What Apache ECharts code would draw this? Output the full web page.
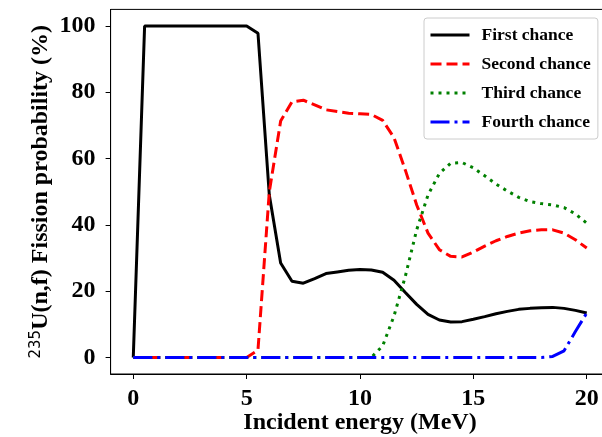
<!DOCTYPE html>
<html>
<head>
    <meta charset="utf-8">
    <script src="https://cdn.jsdelivr.net/npm/echarts@6/dist/echarts.min.js"></script>
</head>
<body style="margin: 0">
    <div id="container" style="width: 602px; height: 437px"></div>
    <script type="text/javascript">
        // incident energy grid (MeV)
        var energy = [0, 0.5, 1, 1.5, 2, 2.5, 3, 3.5, 4, 4.5, 5, 5.5, 6, 6.5, 7, 7.5, 8, 8.5, 9, 9.5,
            10, 10.5, 11, 11.5, 12, 12.5, 13, 13.5, 14, 14.5, 15, 15.5, 16, 16.5, 17, 17.5, 18, 18.5, 19, 19.5, 20];
        var firstChance = [0, 100, 100, 100, 100, 100, 100, 100, 100, 100, 100, 97.8, 49, 28.5, 23, 22.4, 23.8, 25.3, 25.8, 26.3,
            26.5, 26.4, 25.7, 23.3, 19.6, 16, 13, 11.3, 10.7, 10.8, 11.5, 12.3, 13.2, 13.9, 14.5, 14.8, 15, 15.1, 14.8, 14.2, 13.4];
        var secondChance = [0, 0, 0, 0, 0, 0, 0, 0, 0, 0, 0, 2.2, 50, 71.3, 77.1, 77.6, 76.2, 74.7, 74.2, 73.7,
            73.5, 73.3, 71.5, 66.3, 56.5, 46, 37.5, 32.5, 30.5, 30.3, 31.8, 33.6, 35.2, 36.5, 37.5, 38.2, 38.5, 38.5, 37.5, 35.5, 33];
        var thirdChance = [0, 0, 0, 0, 0, 0, 0, 0, 0, 0, 0, 0, 0, 0, 0, 0, 0, 0, 0, 0,
            0, 0, 3.5, 12.5, 24.5, 38.5, 49, 55.5, 58.6, 58.8, 57.2, 54.8, 52.3, 50.2, 48.3, 47, 46.4, 46, 45.2, 43.3, 40.5];
        var fourthChance = [0, 0, 0, 0, 0, 0, 0, 0, 0, 0, 0, 0, 0, 0, 0, 0, 0, 0, 0, 0,
            0, 0, 0, 0, 0, 0, 0, 0, 0, 0, 0, 0, 0, 0, 0, 0, 0, 0.3, 2, 7.8, 13.4];
        var xTicks = [0, 5, 10, 15, 20];
        var yTicks = [0, 20, 40, 60, 80, 100];

        function pairs(ys) {
            return energy.map(function (x, i) { return [x, ys[i]]; });
        }

        var font = 'Liberation Serif';
        var chart = echarts.init(document.getElementById('container'), null, { renderer: 'canvas' });

        var option = {
            animation: false,
            backgroundColor: '#fff',
            grid: {
                left: 110.6, right: -7.4, top: 9.4, bottom: 63,
                outerBoundsMode: 'none',
                containLabel: false,
                show: true, borderColor: '#000', borderWidth: 1
            },
            legend: {
                orient: 'vertical',
                left: 424, top: 18,
                padding: [8, 7, 8, 5],
                itemGap: 11,
                itemWidth: 39, itemHeight: 14,
                borderColor: '#cccccc', borderWidth: 1, borderRadius: 3,
                backgroundColor: '#fff',
                itemStyle: { opacity: 0 },
                lineStyle: { width: 3 },
                textStyle: { fontFamily: font, fontWeight: 'bold', fontSize: 17.5, color: '#000', padding: [0, 0, 0, 7] },
                data: ['First chance', 'Second chance', 'Third chance', 'Fourth chance']
            },
            xAxis: {
                type: 'value', min: -1, max: 21,
                name: 'Incident energy (MeV)',
                nameLocation: 'middle', nameGap: 37, nameMoveOverlap: false,
                nameTextStyle: { fontFamily: font, fontWeight: 'bold', fontSize: 24, color: '#000' },
                axisLine: { show: true, onZero: false, lineStyle: { color: '#000', width: 1 } },
                axisTick: { show: true, length: 5, lineStyle: { color: '#000' }, customValues: xTicks },
                axisLabel: { fontFamily: font, fontWeight: 'bold', fontSize: 24, color: '#000', margin: 13, customValues: xTicks },
                splitLine: { show: false }
            },
            yAxis: {
                type: 'value', min: -5, max: 105,
                name: '{sup|235}{b|U(n,f) Fission probability (%)}',
                nameLocation: 'middle', nameGap: 57, nameRotate: 90, nameMoveOverlap: false,
                nameTextStyle: {
                    rich: {
                        sup: { fontFamily: 'DejaVu Sans', fontSize: 15, color: '#000', verticalAlign: 'top', padding: [0, 0, 10, 0] },
                        b: { fontFamily: font, fontWeight: 'bold', fontSize: 24, color: '#000' }
                    }
                },
                axisLine: { show: true, onZero: false, lineStyle: { color: '#000', width: 1 } },
                axisTick: { show: true, length: 5, lineStyle: { color: '#000' }, customValues: yTicks },
                axisLabel: { fontFamily: font, fontWeight: 'bold', fontSize: 24, color: '#000', margin: 15, customValues: yTicks },
                splitLine: { show: false }
            },
            series: [
                {
                    name: 'First chance', type: 'line', symbol: 'none',
                    data: pairs(firstChance),
                    lineStyle: { color: '#000', width: 3, type: 'solid' },
                    itemStyle: { color: '#000' }
                },
                {
                    name: 'Second chance', type: 'line', symbol: 'none',
                    data: pairs(secondChance),
                    lineStyle: { color: '#ff0000', width: 3, type: [11, 5] },
                    itemStyle: { color: '#ff0000' }
                },
                {
                    name: 'Third chance', type: 'line', symbol: 'none',
                    data: pairs(thirdChance),
                    lineStyle: { color: '#008000', width: 3, type: [3, 5] },
                    itemStyle: { color: '#008000' }
                },
                {
                    name: 'Fourth chance', type: 'line', symbol: 'none',
                    data: pairs(fourthChance),
                    lineStyle: { color: '#0000ff', width: 3, type: [19, 5, 3, 5] },
                    itemStyle: { color: '#0000ff' }
                }
            ]
        };
        chart.setOption(option);
    </script>
</body>
</html>
